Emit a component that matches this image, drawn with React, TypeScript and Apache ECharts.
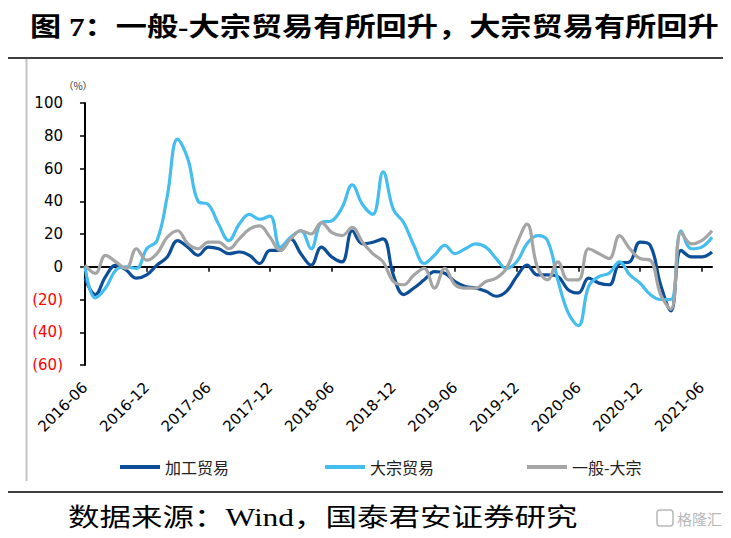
import React, { useEffect, useRef } from "react";
import * as echarts from "echarts";

const months = [
  "2016-06", "2016-07", "2016-08", "2016-09", "2016-10", "2016-11", "2016-12",
  "2017-01", "2017-02", "2017-03", "2017-04", "2017-05", "2017-06",
  "2017-07", "2017-08", "2017-09", "2017-10", "2017-11", "2017-12",
  "2018-01", "2018-02", "2018-03", "2018-04", "2018-05", "2018-06",
  "2018-07", "2018-08", "2018-09", "2018-10", "2018-11", "2018-12",
  "2019-01", "2019-02", "2019-03", "2019-04", "2019-05", "2019-06",
  "2019-07", "2019-08", "2019-09", "2019-10", "2019-11", "2019-12",
  "2020-01", "2020-02", "2020-03", "2020-04", "2020-05", "2020-06",
  "2020-07", "2020-08", "2020-09", "2020-10", "2020-11", "2020-12",
  "2021-01", "2021-02", "2021-03", "2021-04", "2021-05", "2021-06",
  "2021-07",
];

// 加工贸易
const processingTrade = [
  -7, -17, -6, 1, -2, -7, -5, 1, 6, 16, 12, 7, 12, 11, 8, 9, 7, 2, 10, 10,
  17, 8, 1, 12, 6, 3, 22, 14, 15, 17, -5, -17, -13, -8, -3, -4, -9, -12, -13,
  -15, -18, -15, -6, 1, -5, -5, -6, -14, -16, -7, -10, -11, 2, 3, 15, 13, -11,
  -27, 10, 6, 6, 9,
];

// 大宗贸易
const bulkTrade = [
  0, -19, -13, -2, 0, -1, 11, 16, 43, 78, 66, 40, 38, 26, 16, 26, 32, 29, 31,
  12, 18, 22, 11, 27, 28, 36, 50, 38, 32, 58, 35, 27, 13, 2, 7, 13, 8, 11, 14,
  12, 5, -1, 3, 14, 19, 16, -8, -28, -36, -12, -6, -4, 3, -5, -10, -17, -20,
  -20, 22, 11, 12, 18,
];

// 一般-大宗
const generalMinusBulk = [
  1, -4, 7, 3, -1, 11, 4, 8, 18, 22, 14, 11, 15, 15, 11, 17, 23, 25, 18, 10,
  17, 22, 20, 27, 21, 19, 24, 15, 8, 3, -9, -11, -5, -1, -13, -1, -11, -13,
  -13, -9, -7, -1, 14, 26, 0, -8, 3, -8, -8, 11, 8, 5, 19, 11, 5, 4, -17, -26,
  21, 14, 16, 22,
];

const seriesNames = ["加工贸易", "大宗贸易", "一般-大宗"];
const seriesColors = ["#0d4e98", "#45bdef", "#a5a5a5"];

const titleText = "图 7：一般-大宗贸易有所回升，大宗贸易有所回升";
const sourceText = "数据来源：Wind，国泰君安证券研究";

export default function App() {
  const ref = useRef<HTMLDivElement>(null);

  useEffect(() => {
    if (!ref.current) return;
    const chart = echarts.init(ref.current, undefined, { renderer: "svg" });
    const values = [processingTrade, bulkTrade, generalMinusBulk];
    const legendLefts = [115, 320, 522];

    const option: any = {
      animation: false,
      backgroundColor: "#ffffff",
      grid: { left: 85, right: 19, top: 103, bottom: 173, containLabel: false },
      legend: seriesNames.map((n, i) => ({
        data: [n],
        left: legendLefts[i],
        top: 454,
        icon: "rect",
        itemWidth: 40,
        itemHeight: 4,
        itemGap: 0,
        textStyle: {
          fontSize: 16,
          color: "#222",
          fontFamily: "Noto Sans CJK SC",
        },
      })),
      xAxis: [
        {
          type: "category",
          data: months,
          boundaryGap: false,
          axisLine: { onZero: true, lineStyle: { color: "#000", width: 2 } },
          axisTick: {
            show: true,
            interval: 5,
            length: 5,
            lineStyle: { color: "#000", width: 1.5 },
          },
          axisLabel: { show: false },
          splitLine: { show: false },
        },
        {
          type: "category",
          data: months,
          boundaryGap: false,
          position: "bottom",
          axisLine: { show: false, onZero: false },
          axisTick: { show: false },
          splitLine: { show: false },
          axisLabel: {
            interval: 5,
            rotate: 45,
            margin: 20,
            fontSize: 15,
            fontFamily: "DejaVu Sans",
            color: "#000",
          },
        },
      ],
      yAxis: {
        type: "value",
        min: -60,
        max: 100,
        interval: 20,
        axisLine: { show: true, lineStyle: { color: "#000", width: 2 } },
        axisTick: { show: true, length: 5, lineStyle: { color: "#000", width: 1.5 } },
        splitLine: { show: false },
        axisLabel: {
          margin: 22,
          fontSize: 15,
          fontFamily: "DejaVu Sans",
          formatter: (v: number) => (v < 0 ? `{neg|(${-v})}` : `{pos|${v}}`),
          rich: {
            pos: { color: "#000", fontSize: 15, fontFamily: "DejaVu Sans" },
            neg: { color: "#ff0000", fontSize: 15, fontFamily: "DejaVu Sans" },
          },
        },
      },
      series: seriesNames.map((n, i) => ({
        name: n,
        type: "line",
        xAxisIndex: 0,
        data: values[i],
        smooth: 0.4,
        showSymbol: false,
        symbol: "none",
        lineStyle: { color: seriesColors[i], width: 3.2 },
        itemStyle: { color: seriesColors[i] },
        z: 2 + i,
      })),
      graphic: [
        {
          type: "text",
          x: 30,
          y: 27,
          scaleX: 1.2,
          style: {
            text: titleText,
            fontSize: 26,
            fontWeight: "bold",
            fontFamily: "Liberation Serif, Noto Sans CJK SC",
            fill: "#000",
            align: "left",
            verticalAlign: "middle",
          },
        },
        {
          type: "line",
          shape: { x1: 8, y1: 58, x2: 723, y2: 58 },
          style: { stroke: "#000", lineWidth: 1.5 },
        },
        {
          type: "line",
          shape: { x1: 26.5, y1: 59, x2: 26.5, y2: 481 },
          style: { stroke: "#c4c4c4", lineWidth: 2 },
        },
        {
          type: "text",
          x: 78,
          y: 85,
          style: {
            text: "（%）",
            fontSize: 10,
            fontFamily: "Noto Sans CJK SC",
            fill: "#333",
            align: "center",
            verticalAlign: "middle",
          },
        },
        {
          type: "line",
          shape: { x1: 8, y1: 492, x2: 723, y2: 492 },
          style: { stroke: "#000", lineWidth: 1.5 },
        },
        {
          type: "text",
          x: 68,
          y: 518,
          scaleX: 1.26,
          style: {
            text: sourceText,
            fontSize: 25,
            fontFamily: "Liberation Serif, Noto Sans CJK SC",
            fill: "#000",
            align: "left",
            verticalAlign: "middle",
          },
        },
        {
          type: "rect",
          shape: { x: 657, y: 510, width: 16, height: 16, r: 3 },
          style: { fill: "none", stroke: "#b8b8b8", lineWidth: 1.5 },
        },
        {
          type: "text",
          x: 677,
          y: 518,
          style: {
            text: "格隆汇",
            fontSize: 15,
            fontFamily: "Noto Sans CJK SC",
            fill: "#b8b8b8",
            align: "left",
            verticalAlign: "middle",
          },
        },
      ],
    };

    chart.setOption(option);
    return () => chart.dispose();
  }, []);

  return (
    <div
      ref={ref}
      style={{ position: "fixed", left: 0, top: 0, width: 731, height: 538, background: "#fff" }}
    />
  );
}
